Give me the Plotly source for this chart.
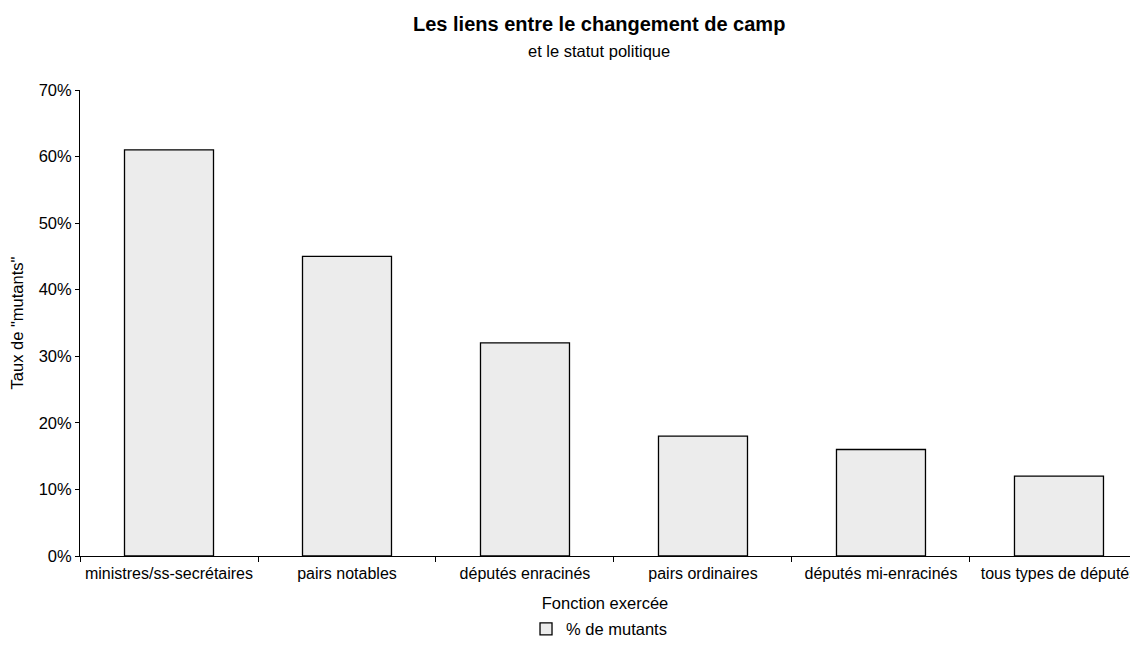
import plotly.graph_objects as go

categories = ["ministres/ss-secrétaires", "pairs notables", "députés enracinés",
              "pairs ordinaires", "députés mi-enracinés", "tous types de députés"]
values = [0.61, 0.45, 0.32, 0.18, 0.16, 0.12]
series_name = "% de mutants"
title = "Les liens entre le changement de camp"
subtitle = "et le statut politique"
x_title = "Fonction exercée"
y_title = 'Taux de "mutants"'

font = "Liberation Sans, Arial, sans-serif"
fs = 16.5

fig = go.Figure()
fig.add_trace(go.Bar(
    x=categories, y=values, name=series_name, width=0.5,
    marker=dict(color="white",
                line=dict(color="black", width=1.3),
                pattern=dict(shape=".", fgcolor="#a8a8a8", bgcolor="white",
                             size=2, solidity=0.5)),
    showlegend=True,
))

# the page body has an 8px default margin on every side
fig.update_layout(
    width=1122, height=630,
    margin=dict(l=72, r=0, t=82, b=82),
    paper_bgcolor="white", plot_bgcolor="white",
    font=dict(family=font, size=fs, color="black"),
    showlegend=True,
    legend=dict(orientation="h", xref="paper", yref="container",
                x=0.4943, xanchor="center", y=0.014, yanchor="middle",
                font=dict(size=fs), itemwidth=30),
    annotations=[
        dict(text="<b>" + title + "</b>", xref="paper", yref="paper", x=0.4943, y=1.1416,
             showarrow=False, font=dict(size=20, family=font), xanchor="center", yanchor="middle"),
        dict(text=subtitle, xref="paper", yref="paper", x=0.4943, y=1.0837,
             showarrow=False, font=dict(size=fs, family=font), xanchor="center", yanchor="middle"),
    ],
)
fig.update_xaxes(
    type="category", range=[-0.5, 5.399], tickangle=0, automargin=False,
    showline=True, linecolor="black", linewidth=1,
    ticks="outside", tickson="boundaries", ticklen=5, tickcolor="black",
    ticklabelstandoff=3,
    showgrid=False, zeroline=False,
    title=dict(text=x_title, standoff=21, font=dict(size=fs)),
    tickfont=dict(size=16),
)
fig.update_yaxes(
    range=[0, 0.7], dtick=0.1, tickformat=".0%", automargin=False,
    showline=True, linecolor="black", linewidth=1,
    ticks="outside", ticklen=4, tickcolor="black",
    showgrid=False, zeroline=False,
    title=dict(text=y_title, standoff=12, font=dict(size=fs)),
    tickfont=dict(size=fs),
)

fig.write_html("out.html")
